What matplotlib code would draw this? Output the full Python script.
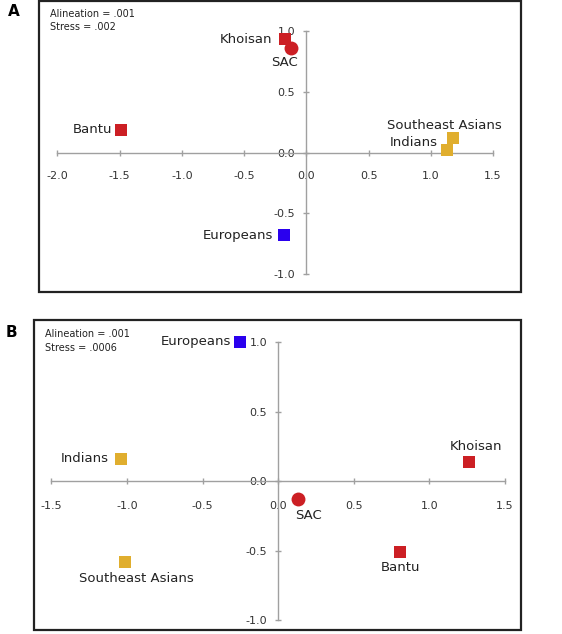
import matplotlib
matplotlib.use("Agg")
import matplotlib.pyplot as plt
from matplotlib.patches import Rectangle

plt.rcParams.update({
    "font.family": "DejaVu Sans",
})

# --- data ---
groups = ["Khoisan", "SAC", "Bantu", "Southeast Asians", "Indians", "Europeans"]
markers = ["s", "o", "s", "s", "s", "s"]
colors = ["#cc1f24", "#cc1f24", "#cc1f24", "#e0ae2e", "#e0ae2e", "#2a00ee"]

a_x = [-0.17, -0.125, -1.49, 1.18, 1.13, -0.18]
a_y = [0.93, 0.86, 0.19, 0.12, 0.02, -0.68]
a_stats = ["Alineation = .001", "Stress = .002"]
a_xticks = [-2.0, -1.5, -1.0, -0.5, 0.0, 0.5, 1.0, 1.5]
a_yticks = [-1.0, -0.5, 0.0, 0.5, 1.0]

b_x = [1.26, 0.13, 0.805, -1.01, -1.04, -0.25]
b_y = [0.14, -0.13, -0.51, -0.58, 0.16, 1.0]
b_stats = ["Alineation = .001", "Stress = .0006"]
b_xticks = [-1.5, -1.0, -0.5, 0.0, 0.5, 1.0, 1.5]
b_yticks = [-1.0, -0.5, 0.0, 0.5, 1.0]

# label placement: (dx px, dy px, ha)
a_offsets = {
    "Khoisan": (-13, 0, "right"),
    "SAC": (-6, -15, "center"),
    "Bantu": (-9, 0, "right"),
    "Southeast Asians": (-9, 13, "center"),
    "Indians": (-9, 8, "right"),
    "Europeans": (-11, 0, "right"),
}
b_offsets = {
    "Khoisan": (7, 15, "center"),
    "SAC": (11, -16, "center"),
    "Bantu": (1, -15, "center"),
    "Southeast Asians": (11, -17, "center"),
    "Indians": (-12, 0, "right"),
    "Europeans": (-9, 0, "right"),
}


def panel(ax, xs, ys, xlim, ylim, xticks, yticks, stats, offsets, xpad):
    ax.set_xlim(*xlim)
    ax.set_ylim(*ylim)
    for sp in ("top", "right"):
        ax.spines[sp].set_visible(False)
    for sp in ("left", "bottom"):
        ax.spines[sp].set_position(("data", 0))
        ax.spines[sp].set_color("#a0a0a0")
        ax.spines[sp].set_linewidth(1.0)
    ax.spines["bottom"].set_bounds(xticks[0], xticks[-1])
    ax.spines["left"].set_bounds(yticks[0], yticks[-1])
    ax.set_xticks(xticks)
    ax.set_yticks(yticks)
    ax.set_xticklabels([f"{t:.1f}" for t in xticks])
    ax.set_yticklabels([f"{t:.1f}" for t in yticks])
    ax.tick_params(axis="x", direction="inout", length=4, width=1,
                   color="#a0a0a0", labelsize=8, labelcolor="#333333", pad=xpad)
    ax.tick_params(axis="y", direction="inout", length=4, width=1,
                   color="#a0a0a0", labelsize=8, labelcolor="#333333", pad=6)

    ax.add_patch(Rectangle((0, 0), 1, 1, transform=ax.transAxes, fill=False,
                           edgecolor="#222222", linewidth=1.6, clip_on=False))

    for g, x, y, m, c in zip(groups, xs, ys, markers, colors):
        ms = 10 if m == "o" else 8.5
        ax.plot([x], [y], marker=m, color=c, markersize=ms,
                linestyle="none", zorder=4, markeredgewidth=0)
        dx, dy, ha = offsets[g]
        ax.annotate(g, (x, y), xytext=(dx, dy), textcoords="offset pixels",
                    ha=ha, va="center", fontsize=9.5, color="#222222", zorder=5)

    ax.text(0.022, 0.955, stats[0], transform=ax.transAxes, fontsize=7,
            color="#222222", va="center", ha="left")
    ax.text(0.022, 0.91, stats[1], transform=ax.transAxes, fontsize=7,
            color="#222222", va="center", ha="left")


fig = plt.figure(figsize=(5.62, 6.34), dpi=100)

ax_a = fig.add_axes([39 / 562, 1 - 292 / 634, (521 - 39) / 562, 291 / 634])
panel(ax_a, a_x, a_y, (-2.147, 1.724), (-1.145, 1.246),
      a_xticks, a_yticks, a_stats, a_offsets, xpad=11)

ax_b = fig.add_axes([34 / 562, 1 - 630 / 634, (521 - 34) / 562, 310 / 634])
panel(ax_b, b_x, b_y, (-1.615, 1.606), (-1.07, 1.158),
      b_xticks, b_yticks, b_stats, b_offsets, xpad=12)

fig.text(8 / 562, 1 - 12 / 634, "A", fontsize=11, fontweight="bold",
         ha="left", va="center")
fig.text(6 / 562, 1 - 333 / 634, "B", fontsize=11, fontweight="bold",
         ha="left", va="center")

fig.savefig("out.png", dpi=100)
